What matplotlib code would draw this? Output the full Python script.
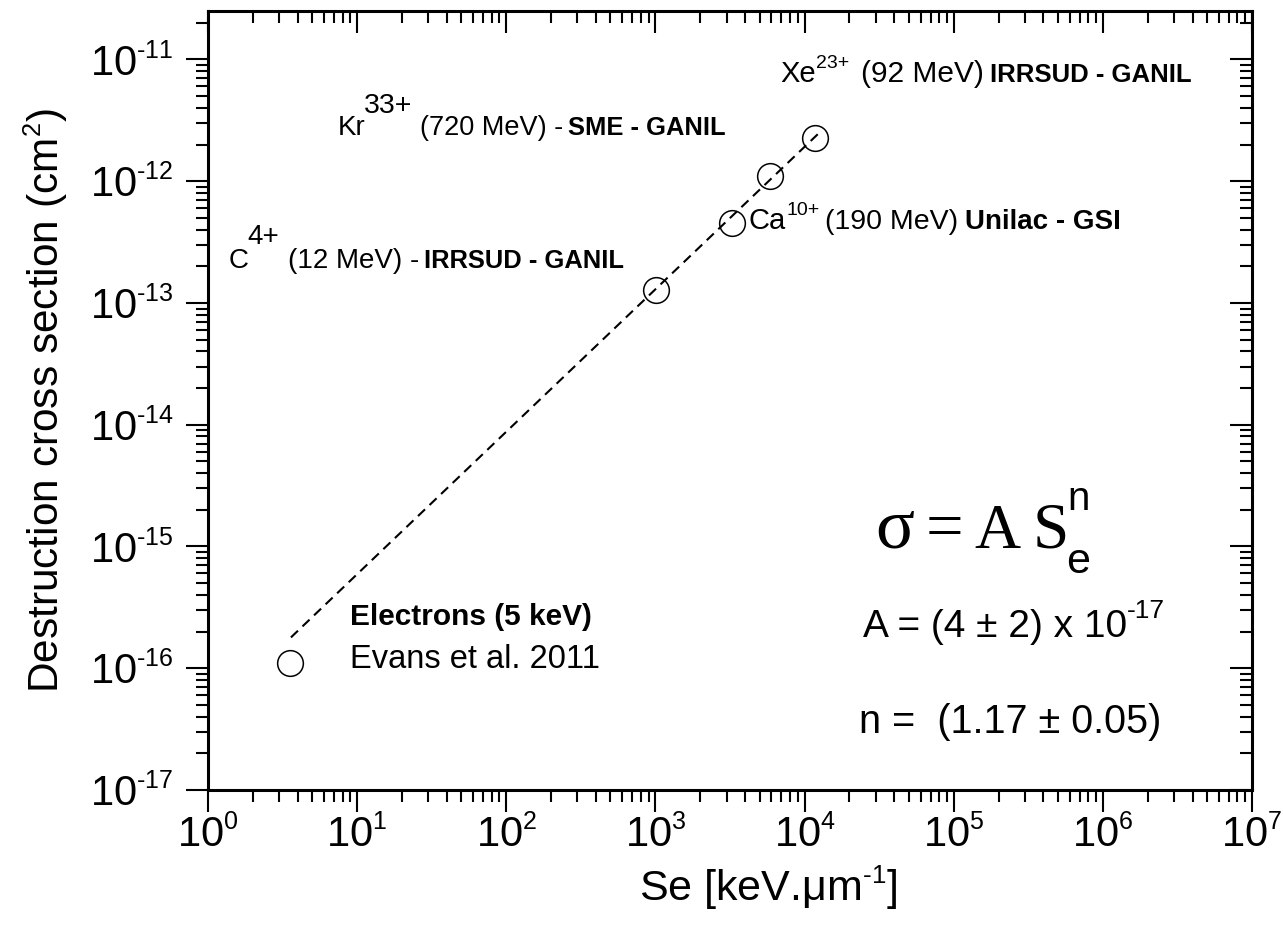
import matplotlib
matplotlib.use("Agg")
import matplotlib.pyplot as plt
from matplotlib.ticker import FixedLocator, FixedFormatter, LogLocator, NullFormatter
import numpy as np

try:
    import matplotlib._mathtext as _mt
    _mt.SHRINK_FACTOR = 0.6  # smaller exponents, as in the typeset axes
except Exception:
    pass

plt.rcParams["font.family"] = ["Liberation Sans", "DejaVu Sans"]
plt.rcParams["mathtext.fontset"] = "custom"
plt.rcParams["mathtext.rm"] = "Liberation Sans"
plt.rcParams["mathtext.it"] = "Liberation Sans:italic"
plt.rcParams["mathtext.bf"] = "Liberation Sans:bold"
plt.rcParams["lines.scale_dashes"] = False

# Electronic stopping power Se (keV/um) and destruction cross section (cm^2)
se_values = [3.55, 1016, 3240, 5900, 11700]
sigma_values = [1.1e-16, 1.28e-13, 4.5e-13, 1.1e-12, 2.25e-12]

# Power-law fit sigma = A * Se^n
fit_A = 4e-17
fit_n = 1.17
fit_se_range = [3.6, 12500]

x_decades = [0, 1, 2, 3, 4, 5, 6, 7]
y_decades = [-17, -16, -15, -14, -13, -12, -11]
x_limits = [1e0, 1e7]
y_limits = [1e-17, 2.5e-11]

SANS = ["Liberation Sans", "DejaVu Sans"]
SERIF = ["Liberation Serif", "DejaVu Serif"]


def decade_label(e):
    sign = r"\text{-}" if e < 0 else ""
    return rf"$10^{{{sign}{abs(e)}}}$"


fig = plt.figure(figsize=(12.83, 9.31), dpi=100)
ax = fig.add_axes([0.1621, 0.1515, 0.8137, 0.8367])
ax.set_xscale("log")
ax.set_yscale("log")
ax.set_xlim(*x_limits)
ax.set_ylim(*y_limits)

# fit line
se_fit = np.geomspace(fit_se_range[0], fit_se_range[1], 60)
ax.plot(se_fit, fit_A * se_fit ** fit_n, color="black", lw=1.5,
        ls=(0, (7, 4.5)), zorder=2)

# measurements
ax.plot(se_values, sigma_values, "o", mfc="none", mec="black", ms=18.5,
        mew=1.1, zorder=3)

# ticks
ax.xaxis.set_major_locator(FixedLocator([10.0 ** e for e in x_decades]))
ax.xaxis.set_major_formatter(FixedFormatter([decade_label(e) for e in x_decades]))
ax.yaxis.set_major_locator(FixedLocator([10.0 ** e for e in y_decades]))
ax.yaxis.set_major_formatter(FixedFormatter([decade_label(e) for e in y_decades]))
for axis in (ax.xaxis, ax.yaxis):
    axis.set_minor_locator(LogLocator(base=10, subs=np.arange(2, 10), numticks=50))
    axis.set_minor_formatter(NullFormatter())

ax.tick_params(which="both", direction="out", width=1.5, labelsize=30,
               top=False, right=False)
ax.tick_params(which="major", length=15.5)
ax.tick_params(which="minor", length=8.5)
ax.tick_params(axis="x", pad=3)
ax.tick_params(axis="y", pad=9)
for sp in ax.spines.values():
    sp.set_linewidth(2.2)

# mirrored inward ticks on top and right
top = ax.secondary_xaxis("top")
right = ax.secondary_yaxis("right")
for sec, axname in ((top, "x"), (right, "y")):
    for sp in sec.spines.values():
        sp.set_visible(False)
    sec_axis = sec.xaxis if axname == "x" else sec.yaxis
    decades = x_decades if axname == "x" else y_decades
    sec_axis.set_major_locator(FixedLocator([10.0 ** e for e in decades]))
    sec_axis.set_minor_locator(LogLocator(base=10, subs=np.arange(2, 10), numticks=50))
    sec_axis.set_major_formatter(NullFormatter())
    sec_axis.set_minor_formatter(NullFormatter())
    sec.tick_params(which="both", direction="in", width=1.5)
    sec.tick_params(which="major", length=15.5)
    sec.tick_params(which="minor", length=8.5)

ax.set_xlabel(r"Se [keV.μm$^{\text{-}1}$]", fontsize=31)
ax.xaxis.set_label_coords(0.537, -0.096)
ax.set_ylabel(r"Destruction cross section (cm$^{2}$)", fontsize=30.5)
ax.yaxis.set_label_coords(-0.132, 0.5)


def text_run(x, y, pieces, family=SANS):
    """Write text pieces left to right on a shared baseline."""
    prev = None
    for text, size, weight, dx, dy in pieces:
        if prev is None:
            prev = ax.text(x, y, text, transform=ax.transAxes, fontsize=size,
                           fontweight=weight, family=family,
                           ha="left", va="baseline")
        else:
            prev = ax.annotate(text, xy=(1, y), xycoords=(prev, ax.transAxes),
                               xytext=(dx, dy), textcoords="offset points",
                               fontsize=size, fontweight=weight, family=family,
                               ha="left", va="baseline")
    return prev


text_run(0.1245, 0.8408, [("Kr", 20, "normal", 0, 0),
                          ("33+", 20.5, "normal", -1, 16),
                          ("(720 MeV) -", 19.5, "normal", 5, 0),
                          ("SME - GANIL", 18.4, "bold", 3.5, 0)])
text_run(0.0201, 0.6701, [("C", 20, "normal", 0, 0),
                          ("4+", 20, "normal", -1, 17),
                          ("(12 MeV) -", 20, "normal", 6, 0),
                          ("IRRSUD - GANIL", 18.4, "bold", 4, 0)])
text_run(0.5479, 0.9089, [("Xe", 21, "normal", 0, 0),
                          ("23+", 14, "normal", 0.5, 10),
                          ("(92 MeV)", 21.5, "normal", 8, 0),
                          ("IRRSUD - GANIL", 18.5, "bold", 5, 0)])
text_run(0.5182, 0.7202, [("Ca", 21, "normal", 0, 0),
                          ("10+", 14, "normal", 0, 10),
                          ("(190 MeV)", 20.5, "normal", 4, 0),
                          ("Unilac - GSI", 20, "bold", 5, 0)])
text_run(0.1360, 0.2118, [("Electrons (5 keV)", 21.5, "bold", 0, 0)])
text_run(0.1360, 0.1566, [("Evans et al. 2011", 23.5, "normal", 0, 0)])

# fit formula: sigma = A Se^n
s_glyph = text_run(0.639, 0.3107, [("σ", 52, "normal", 0, 0),
                                   ("=", 48, "normal", 8, 0),
                                   ("A", 46, "normal", 8, 0),
                                   ("S", 47, "normal", 9, 0)], family=SERIF)
ax.annotate("e", xy=(1, 0.2786), xycoords=(s_glyph, ax.transAxes), xytext=(-2, 0),
            textcoords="offset points", fontsize=31, ha="left", va="baseline")
ax.annotate("n", xy=(1, 0.3594), xycoords=(s_glyph, ax.transAxes), xytext=(-1, 0),
            textcoords="offset points", fontsize=29, ha="left", va="baseline")
text_run(0.627, 0.1964, [("A = (4 ± 2) x 10", 28, "normal", 0, 0),
                         ("-17", 19, "normal", 0.5, 14)])
text_run(0.624, 0.0732, [("n =  (1.17 ± 0.05)", 28.5, "normal", 0, 0)])

fig.savefig("out.png", dpi=100)
